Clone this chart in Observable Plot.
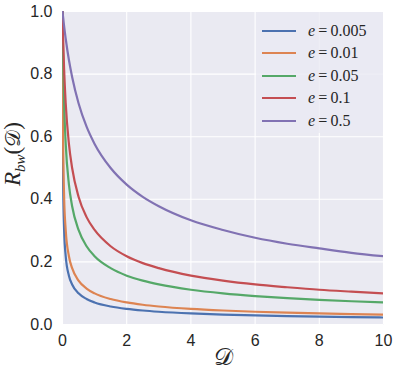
<!DOCTYPE html>
<html>
<head>
<meta charset="utf-8">
<script src="https://cdn.jsdelivr.net/npm/d3@7"></script>
<script src="https://cdn.jsdelivr.net/npm/@observablehq/plot@0.6"></script>
<style>
  html, body { margin: 0; padding: 0; background: #ffffff; }
  #wrap { position: relative; width: 398px; height: 377px; }
  #wrap svg { position: absolute; left: 0; top: 0; }
  .ylab { position: absolute; left: 15px; top: 154px; transform: translate(-50%, -50%) rotate(-90deg); font-family: "Liberation Serif", "DejaVu Serif", serif; font-size: 23px; color: #262626; white-space: nowrap; }
  .xlab { position: absolute; left: 223px; top: 357px; transform: translate(-50%, -50%); font-family: "DejaVu Sans", serif; font-size: 24px; color: #262626; white-space: nowrap; }
  .legend { position: absolute; left: 256px; top: 12px; width: 127px; height: 121px; background: rgba(234,234,242,0.8); border-radius: 3px; }
  .lg-row { position: absolute; left: 6px; height: 20px; display: flex; align-items: center; }
  .lg-line { width: 34px; height: 0; border-top: 2.2px solid; margin-right: 12px; }
  .lg-txt { font-family: "Liberation Serif", "DejaVu Serif", serif; font-size: 16px; color: #262626; white-space: nowrap; }
</style>
</head>
<body>
<div id="wrap"></div>
<script>
// x values (D)
const D = [0, 0.005, 0.01, 0.02, 0.05, 0.1, 0.2, 0.3, 0.5, 0.75, 1, 1.5, 2, 2.5, 3, 4, 5, 6, 7, 8, 9, 10];
// series labels
const eLabels = ["0.005", "0.01", "0.05", "0.1", "0.5"];
const colors = ["#4C72B0", "#DD8452", "#55A868", "#C44E52", "#8172B3"];
// series values
const r_e0005 = [1, 0.707, 0.577, 0.447, 0.302, 0.218, 0.156, 0.128, 0.0995, 0.0814, 0.0705, 0.0576, 0.0499, 0.0447, 0.0408, 0.0353, 0.0316, 0.0289, 0.0267, 0.0250, 0.0236, 0.0224];
const r_e001  = [1, 0.816, 0.707, 0.577, 0.408, 0.302, 0.218, 0.180, 0.140, 0.1147, 0.0995, 0.0814, 0.0705, 0.0631, 0.0576, 0.0499, 0.0447, 0.0408, 0.0378, 0.0353, 0.0333, 0.0316];
const r_e005  = [1, 0.953, 0.913, 0.845, 0.707, 0.577, 0.447, 0.378, 0.302, 0.250, 0.218, 0.180, 0.156, 0.140, 0.128, 0.111, 0.0995, 0.0909, 0.0842, 0.0788, 0.0743, 0.0705];
const r_e01   = [1, 0.976, 0.953, 0.913, 0.816, 0.707, 0.577, 0.500, 0.408, 0.343, 0.302, 0.250, 0.218, 0.196, 0.180, 0.156, 0.140, 0.128, 0.119, 0.111, 0.105, 0.0995];
const r_e05   = [1, 0.995, 0.990, 0.981, 0.953, 0.913, 0.845, 0.791, 0.707, 0.632, 0.577, 0.500, 0.447, 0.408, 0.378, 0.333, 0.302, 0.277, 0.258, 0.243, 0.229, 0.218];
const xTicks = [0, 2, 4, 6, 8, 10];
const yTicks = [0, 0.2, 0.4, 0.6, 0.8, 1.0];

const seriesVals = [r_e0005, r_e001, r_e005, r_e01, r_e05];
const rows = seriesVals.flatMap((vals, i) => vals.map((v, j) => ({D: D[j], R: v, e: eLabels[i]})));

const chart = Plot.plot({
  width: 398,
  height: 377,
  marginLeft: 62,
  marginRight: 15,
  marginTop: 11,
  marginBottom: 53,
  style: {fontFamily: "'Liberation Sans', Arial, sans-serif", fontSize: "16px", color: "#262626", background: "transparent", overflow: "visible"},
  x: {domain: [0, 10], ticks: xTicks, label: null},
  y: {domain: [0, 1], ticks: yTicks, label: null, tickFormat: d3.format(".1f")},
  color: {domain: eLabels, range: colors},
  marks: [
    Plot.frame({fill: "#EAEAF2", stroke: null}),
    Plot.gridX(xTicks, {stroke: "#ffffff", strokeOpacity: 1, strokeWidth: 1.1}),
    Plot.gridY(yTicks, {stroke: "#ffffff", strokeOpacity: 1, strokeWidth: 1.1}),
    Plot.axisX({ticks: xTicks, tickSize: 0, tickPadding: 10, label: null}),
    Plot.axisY({ticks: yTicks, tickSize: 0, tickPadding: 10, label: null, tickFormat: d3.format(".1f")}),
    Plot.line(rows, {x: "D", y: "R", z: "e", stroke: "e", strokeWidth: 2.2, curve: "monotone-x", clip: true})
  ]
});

const wrap = document.getElementById("wrap");
wrap.appendChild(chart);

const yl = document.createElement("div");
yl.className = "ylab";
yl.innerHTML = '<i>R</i><sub style="font-size:15px;position:relative;top:-1px"><i>bw</i></sub>(<span style="font-family:\'DejaVu Sans\',serif;font-size:21px">𝒟</span>)';
wrap.appendChild(yl);

const xl = document.createElement("div");
xl.className = "xlab";
xl.textContent = "𝒟";
wrap.appendChild(xl);

const lg = document.createElement("div");
lg.className = "legend";
eLabels.forEach((lab, i) => {
  const row = document.createElement("div");
  row.className = "lg-row";
  row.style.top = (9 + i * 22.4) + "px";
  row.innerHTML = `<div class="lg-line" style="border-color:${colors[i]}"></div><span class="lg-txt"><i>e</i>&#8201;=&#8201;${lab}</span>`;
  lg.appendChild(row);
});
wrap.appendChild(lg);
</script>
</body>
</html>
